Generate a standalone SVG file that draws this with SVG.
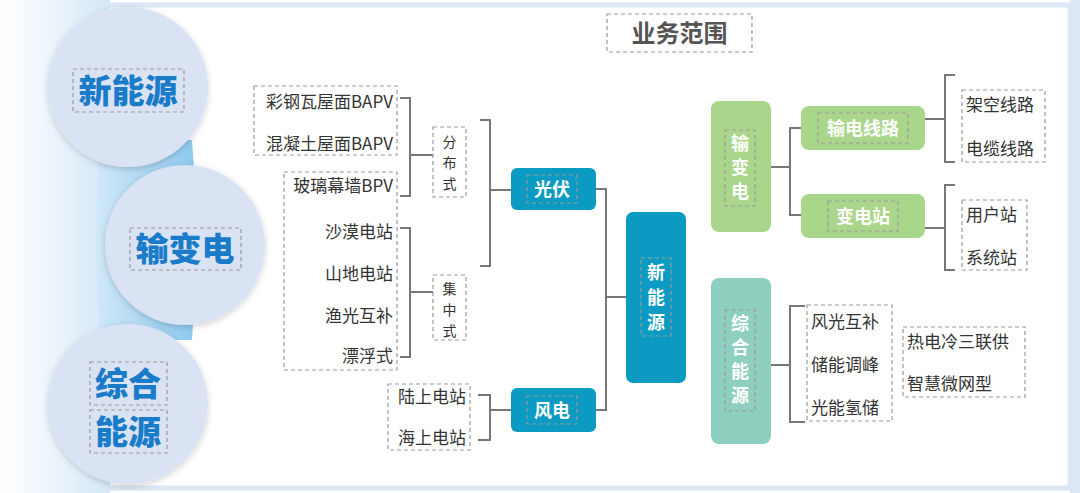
<svg xmlns="http://www.w3.org/2000/svg" width="1080" height="493" viewBox="0 0 1080 493">
<defs>
<linearGradient id="lg" x1="0" x2="1" y1="0" y2="0"><stop offset="0" stop-color="#ffffff"/><stop offset="1" stop-color="#d6e8f8"/></linearGradient>
<linearGradient id="band" x1="0" x2="1" y1="0" y2="0"><stop offset="0" stop-color="#d0e8f8"/><stop offset="1" stop-color="#8cc8ee"/></linearGradient>
<filter id="sh" x="-20%" y="-20%" width="140%" height="140%"><feDropShadow dx="0" dy="2" stdDeviation="3" flood-color="#000" flood-opacity="0.18"/></filter>
</defs>
<style>
text{font-family:"Noto Sans CJK SC","Liberation Sans",sans-serif}
.dash{fill:none;stroke:#999;stroke-width:1.2;stroke-dasharray:4 3}
.br{fill:none;stroke:#777;stroke-width:2}
.lf{font-size:17px;fill:#333}
.vt{font-size:14px;fill:#333}
.big{font-size:33px;font-weight:900;fill:#1a7cc8}
.wt{font-size:18px;font-weight:bold;fill:#fff}
.circ{fill:#d9e3f4;filter:url(#sh)}
</style>
<rect x="0" y="0" width="1080" height="493" fill="#fff"/>
<rect x="8" y="5" width="1062" height="483" fill="#fff" stroke="#dce6f4" stroke-width="5"/>
<rect x="1070" y="0" width="10" height="493" fill="#dce6f4"/>
<rect x="0" y="0" width="110" height="493" fill="url(#lg)"/>
<path d="M100 140 Q92 240 100 340 L192 340 Q200 240 192 140 Z" fill="url(#band)"/>
<g id="title"><rect class="dash" x="607" y="14" width="145" height="38"/><text x="679.5" y="42" text-anchor="middle" font-size="24" font-weight="bold" fill="#555">业务范围</text></g>
<g id="c1"><circle class="circ" cx="128" cy="87" r="80"/><rect class="dash" x="73" y="69" width="111" height="43"/><text class="big" x="128" y="103" text-anchor="middle">新能源</text></g>
<g id="c2"><circle class="circ" cx="185" cy="245" r="80"/><rect class="dash" x="130" y="228" width="111" height="42"/><text class="big" x="185" y="261" text-anchor="middle">输变电</text></g>
<g id="c3"><circle class="circ" cx="128" cy="404" r="80"/><rect class="dash" x="90" y="362" width="77" height="43"/><rect class="dash" x="90" y="410" width="77" height="43"/><text class="big" x="128" y="396" text-anchor="middle">综合</text><text class="big" x="128" y="444" text-anchor="middle">能源</text></g>
<g id="connectors">
<path class="br" d="M400 98 H410 V196 H400 M410 155 H433"/>
<path class="br" d="M400 228 H410 V357 H400 M410 292 H433"/>
<path class="br" d="M480 120 H490 V266 H480 M490 190 H511"/>
<path class="br" d="M478 395 H490 V440 H478 M490 410 H511"/>
<path class="br" d="M596 189 H606 V410 H596 M606 297 H626"/>
<path class="br" d="M771 167 H790 M801 128 H790 V215 H801"/>
<path class="br" d="M955 75 H945 V162 H955 M925 119 H945"/>
<path class="br" d="M955 185 H945 V270 H955 M925 228 H945"/>
<path class="br" d="M771 365 H790 M805 306 H790 V422 H805"/>
</g>
<g id="leaf1"><rect class="dash" x="254" y="86" width="143" height="69"/><text class="lf" x="393" y="108" text-anchor="end">彩钢瓦屋面BAPV</text><text class="lf" x="393" y="150" text-anchor="end">混凝土屋面BAPV</text></g>
<g id="leaf2"><rect class="dash" x="284" y="172" width="113" height="198"/>
<text class="lf" x="393" y="192" text-anchor="end">玻璃幕墙BPV</text><text class="lf" x="393" y="238" text-anchor="end">沙漠电站</text><text class="lf" x="393" y="280" text-anchor="end">山地电站</text><text class="lf" x="393" y="322" text-anchor="end">渔光互补</text><text class="lf" x="393" y="362" text-anchor="end">漂浮式</text></g>
<g id="fbs"><rect class="dash" x="433" y="127" width="33" height="70"/><text class="vt" x="449.5" y="147" text-anchor="middle">分</text><text class="vt" x="449.5" y="168" text-anchor="middle">布</text><text class="vt" x="449.5" y="189" text-anchor="middle">式</text></g>
<g id="jzs"><rect class="dash" x="433" y="275" width="33" height="65"/><text class="vt" x="449.5" y="294" text-anchor="middle">集</text><text class="vt" x="449.5" y="315" text-anchor="middle">中</text><text class="vt" x="449.5" y="336" text-anchor="middle">式</text></g>
<g id="leaf3"><rect class="dash" x="388" y="384" width="82" height="66"/><text class="lf" x="466" y="403" text-anchor="end">陆上电站</text><text class="lf" x="466" y="444" text-anchor="end">海上电站</text></g>
<g id="gf"><rect x="511" y="168" width="85" height="42" rx="6" fill="#0b9bc2"/><rect class="dash" x="527" y="175" width="50" height="28" stroke="#5fb4cf"/><text class="wt" x="552" y="196" text-anchor="middle">光伏</text></g>
<g id="fd"><rect x="511" y="388" width="85" height="44" rx="6" fill="#0b9bc2"/><rect class="dash" x="527" y="396" width="50" height="28" stroke="#5fb4cf"/><text class="wt" x="552" y="417" text-anchor="middle">风电</text></g>
<g id="xny"><rect x="626" y="212" width="60" height="171" rx="7" fill="#0b9bc2"/><rect class="dash" x="641" y="258" width="30" height="78" stroke="#5fb4cf"/><text class="wt" x="656" y="279" text-anchor="middle">新</text><text class="wt" x="656" y="304" text-anchor="middle">能</text><text class="wt" x="656" y="329" text-anchor="middle">源</text></g>
<g id="sbd"><rect x="711" y="101" width="60" height="131" rx="8" fill="#a9d68a"/><rect class="dash" x="725" y="130" width="30" height="76" stroke="#7a9a70"/><text class="wt" x="740" y="150" text-anchor="middle">输</text><text class="wt" x="740" y="174" text-anchor="middle">变</text><text class="wt" x="740" y="198" text-anchor="middle">电</text></g>
<g id="zhny"><rect x="711" y="278" width="60" height="166" rx="8" fill="#8ecfbf"/><rect class="dash" x="725" y="310" width="30" height="101" stroke="#6a9a90"/><text class="wt" x="740" y="330" text-anchor="middle">综</text><text class="wt" x="740" y="354" text-anchor="middle">合</text><text class="wt" x="740" y="378" text-anchor="middle">能</text><text class="wt" x="740" y="402" text-anchor="middle">源</text></g>
<g id="sdxl"><rect x="801" y="106" width="124" height="44" rx="8" fill="#a9d68a"/><rect class="dash" x="818" y="113" width="90" height="30" stroke="#7a9a70"/><text class="wt" x="863" y="135" text-anchor="middle">输电线路</text></g>
<g id="bdz"><rect x="801" y="194" width="124" height="44" rx="8" fill="#a9d68a"/><rect class="dash" x="828" y="201" width="70" height="30" stroke="#7a9a70"/><text class="wt" x="863" y="223" text-anchor="middle">变电站</text></g>
<g id="leaf4"><rect class="dash" x="962" y="90" width="83" height="72"/><text class="lf" x="966" y="111">架空线路</text><text class="lf" x="966" y="155">电缆线路</text></g>
<g id="leaf5"><rect class="dash" x="962" y="200" width="65" height="70"/><text class="lf" x="966" y="221">用户站</text><text class="lf" x="966" y="264">系统站</text></g>
<g id="leaf6"><rect class="dash" x="807" y="305" width="85" height="116"/><text class="lf" x="811" y="328">风光互补</text><text class="lf" x="811" y="371">储能调峰</text><text class="lf" x="811" y="414">光能氢储</text></g>
<g id="leaf7"><rect class="dash" x="903" y="327" width="122" height="70"/><text class="lf" x="907" y="348">热电冷三联供</text><text class="lf" x="907" y="390">智慧微网型</text></g>
</svg>
